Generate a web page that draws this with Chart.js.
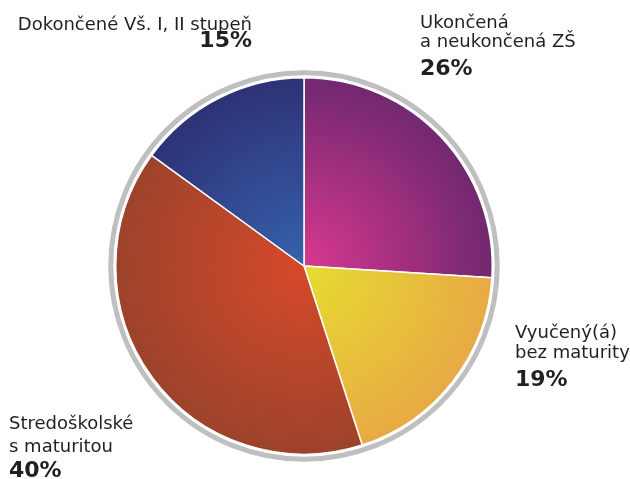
<!DOCTYPE html>
<html>
<head>
<meta charset="utf-8">
<script src="https://cdn.jsdelivr.net/npm/chart.js@4/dist/chart.umd.min.js"></script>
<style>
  html, body { margin: 0; padding: 0; background: #fff; }
  #wrap { width: 630px; height: 479px; }
</style>
</head>
<body>
<div id="wrap"><canvas id="eduChart" width="630" height="479"></canvas></div>
<script>
// education categories, clockwise from 12 o'clock
const categories = [
    ["Ukončená", "a neukončená ZŠ"],
    ["Vyučený(á)", "bez maturity"],
    ["Stredoškolské", "s maturitou"],
    ["Dokončené Vš. I, II stupeň"]
];
const shares = [26, 19, 40, 15];

// radial gradient stops (center -> rim) per slice
const innerColors = ["#d8388f", "#e6dc30", "#d6492a", "#3562ad"];
const outerColors = ["#712870", "#e8aa44", "#9c432b", "#2e3276"];

// where the text of each slice goes (baselines of text lines, then the percent)
const labelSpots = [
    { x: 420, align: "left",  lines: [28, 47], pct: 75 },
    { x: 515, align: "left",  lines: [338, 358], pct: 386 },
    { x: 9,   align: "left",  lines: [429, 452], pct: 477 },
    { x: 252, align: "right", lines: [30], pct: 47 }
];

function sliceFill(context) {
    let chart = context.chart;
    let area = chart.chartArea;
    let i = context.dataIndex;
    if (!area) return innerColors[i];
    let cx = (area.left + area.right) / 2;
    let cy = (area.top + area.bottom) / 2;
    let r = Math.min(area.right - area.left, area.bottom - area.top) / 2;
    let g = chart.ctx.createRadialGradient(cx, cy, 0, cx, cy, r);
    g.addColorStop(0, innerColors[i]);
    g.addColorStop(1, outerColors[i]);
    return g;
}

const outerRing = {
    id: "outerRing",
    afterDatasetsDraw(chart) {
        let arc = chart.getDatasetMeta(0).data[0];
        if (!arc) return;
        let ctx = chart.ctx;
        ctx.save();
        ctx.beginPath();
        ctx.arc(arc.x, arc.y, arc.outerRadius + 5, 0, Math.PI * 2);
        ctx.lineWidth = 5;
        ctx.strokeStyle = "#bfbfbf";
        ctx.stroke();
        ctx.restore();
    }
};

const sliceLabels = {
    id: "sliceLabels",
    afterDraw(chart) {
        let ctx = chart.ctx;
        ctx.save();
        ctx.fillStyle = "#231f20";
        ctx.textBaseline = "alphabetic";
        categories.forEach((lines, i) => {
            let spot = labelSpots[i];
            ctx.textAlign = spot.align;
            ctx.font = "18px 'DejaVu Sans', Verdana, sans-serif";
            lines.forEach((t, k) => ctx.fillText(t, spot.x, spot.lines[k]));
            ctx.font = "bold 22px 'DejaVu Sans', Verdana, sans-serif";
            ctx.fillText(shares[i] + "%", spot.x, spot.pct);
        });
        ctx.restore();
    }
};

new Chart(document.getElementById("eduChart").getContext("2d"), {
    type: "pie",
    data: {
        labels: categories.map(c => c.join(" ")),
        datasets: [{
            data: shares,
            backgroundColor: sliceFill,
            borderColor: "#ffffff",
            borderWidth: 1.5
        }]
    },
    options: {
        responsive: false,
        animation: false,
        layout: { padding: { left: 115, right: 137, top: 77, bottom: 24 } },
        plugins: {
            legend: { display: false },
            tooltip: { enabled: false }
        }
    },
    plugins: [outerRing, sliceLabels]
});
</script>
</body>
</html>
